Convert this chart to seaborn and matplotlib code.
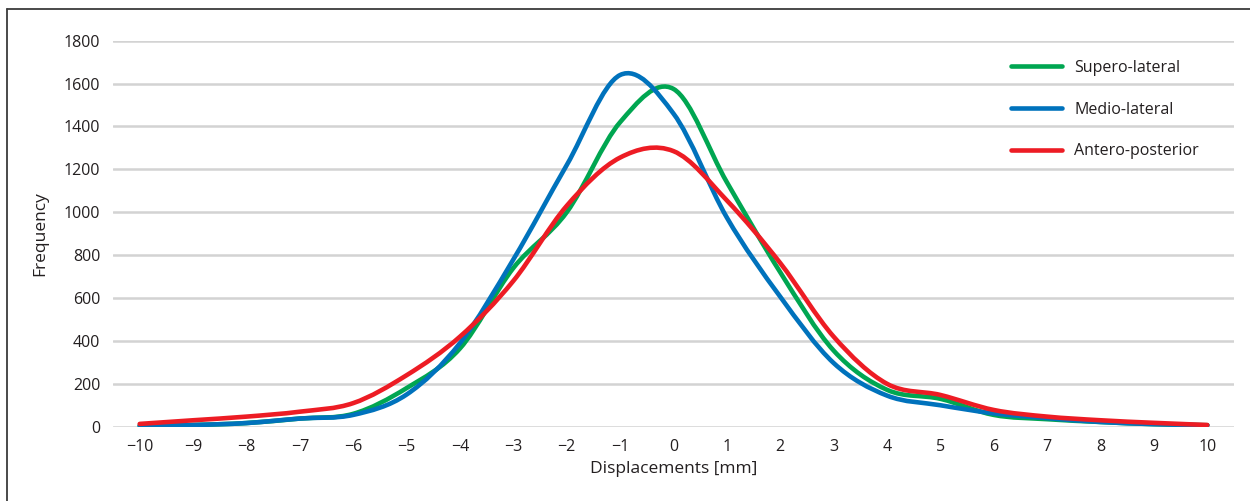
import numpy as np
import pandas as pd
import seaborn as sns
import matplotlib.pyplot as plt
from matplotlib.path import Path
from matplotlib.patches import PathPatch
from matplotlib.lines import Line2D

# values
displacement = list(range(-10, 11))
supero_lateral = [5, 8, 17, 38, 60, 180, 365, 740, 1000, 1420, 1575, 1140, 720, 355, 172, 130, 55, 35, 22, 12, 7]
medio_lateral = [4, 8, 17, 38, 55, 150, 390, 780, 1220, 1640, 1460, 975, 606, 297, 145, 100, 62, 40, 22, 12, 6]
antero_posterior = [13, 30, 47, 70, 110, 240, 420, 680, 1030, 1255, 1285, 1055, 763, 420, 200, 148, 78, 47, 30, 18, 8]

series_names = ["Supero-lateral", "Medio-lateral", "Antero-posterior"]
series_colors = ["#00A651", "#0072BC", "#ED1C24"]


def smooth_path(x, y):
    """Excel-style smoothed line: cubic Bezier segments through the points."""
    x = np.asarray(x, float)
    y = np.asarray(y, float)
    pts = np.column_stack([x, y])
    ext = np.vstack([pts[0], pts, pts[-1]])
    verts = [pts[0]]
    codes = [Path.MOVETO]
    for i in range(len(pts) - 1):
        p0, p1, p2, p3 = ext[i], ext[i + 1], ext[i + 2], ext[i + 3]
        c1 = p1 + (p2 - p0) / 6.0
        c2 = p2 - (p3 - p1) / 6.0
        verts += [c1, c2, p2]
        codes += [Path.CURVE4] * 3
    return Path(verts, codes)


df = pd.DataFrame({
    "Displacement": displacement * 3,
    "Frequency": supero_lateral + medio_lateral + antero_posterior,
    "Direction": sum([[n] * len(displacement) for n in series_names], []),
})

sns.set_style("white")
plt.rcParams["font.family"] = ["Open Sans", "DejaVu Sans"]
plt.rcParams["axes.unicode_minus"] = True

fig = plt.figure(figsize=(12.5, 5.01), dpi=100)
ax = fig.add_axes([113 / 1250, 1 - 426.7 / 501, (1234 - 113) / 1250, (426.7 - 40.7) / 501])

sns.lineplot(data=df, x="Displacement", y="Frequency", hue="Direction",
             palette=dict(zip(series_names, series_colors)), ax=ax,
             linewidth=3.3, legend=False)

# swap the straight segments for smoothed curves, like the original
for line, color in zip(ax.get_lines(), series_colors):
    xd, yd = line.get_xdata(), line.get_ydata()
    line.set_visible(False)
    ax.add_patch(PathPatch(smooth_path(xd, yd), facecolor="none", edgecolor=color,
                           linewidth=3.3, capstyle="round", joinstyle="round", zorder=3))

ax.set_xlim(-10.5, 10.5)
ax.set_ylim(0, 1800)
ax.set_xticks(displacement)
ax.set_xticklabels([str(v).replace("-", "\u2212") for v in displacement])
ax.set_yticks(range(0, 1801, 200))
ax.tick_params(axis="both", length=0, labelsize=11.5, colors="#231F20", pad=9)
ax.yaxis.grid(True, color="#D3D3D3", linewidth=1.8)
ax.xaxis.grid(False)
for s in ax.spines.values():
    s.set_visible(False)

ax.set_xlabel("Displacements [mm]", fontsize=12.5, color="#231F20")
ax.set_ylabel("Frequency", fontsize=12.5, color="#231F20")
ax.xaxis.set_label_coords(0.5, -0.09)
ax.yaxis.set_label_coords(-0.058, 0.5)

handles = [Line2D([], [], color=c, linewidth=3.3) for c in series_colors]
fig.legend(handles, series_names, loc="upper left", bbox_to_anchor=(1003 / 1250, 1 - 52 / 501),
           frameon=False, fontsize=11.5, handlelength=3.2, handletextpad=0.75,
           labelspacing=1.6, borderpad=0, labelcolor="#231F20")

# outer frame (only top and left edges show in the original crop)
fig.add_artist(Line2D([7 / 1250, 7 / 1250], [0, 1 - 9 / 501], color="#3C3C3C", linewidth=1.3,
                      transform=fig.transFigure))
fig.add_artist(Line2D([7 / 1250, 1], [1 - 9 / 501, 1 - 9 / 501], color="#3C3C3C", linewidth=1.3,
                      transform=fig.transFigure))

fig.savefig("out.png", dpi=100)
